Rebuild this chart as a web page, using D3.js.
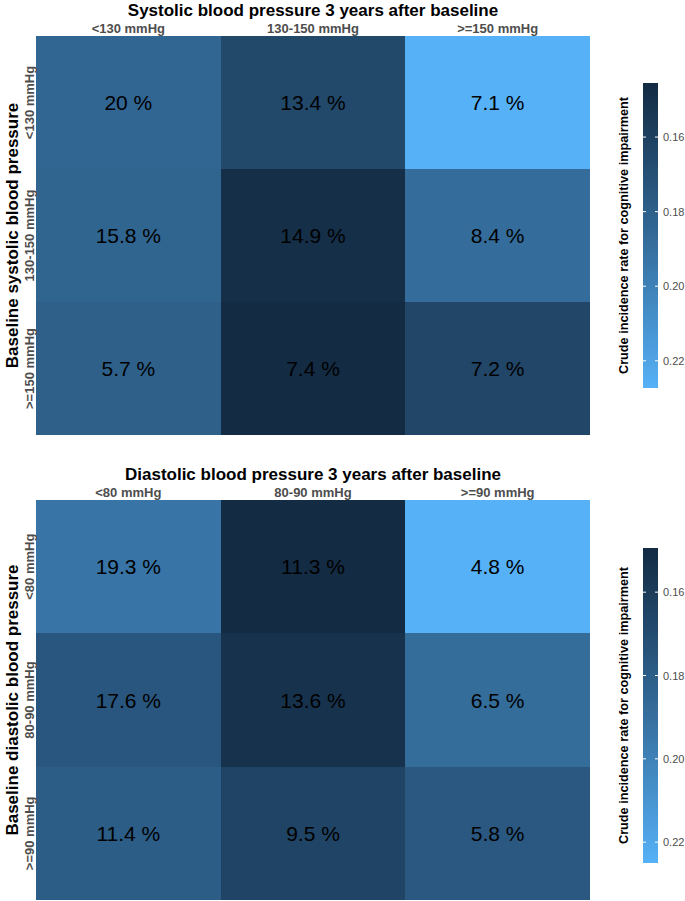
<!DOCTYPE html>
<html><head><meta charset="utf-8">
<script src="https://cdn.jsdelivr.net/npm/d3@7"></script>
<style>body{margin:0;background:#fff}svg{display:block}</style>
</head><body>
<script>
const sysCols = ["<130 mmHg", "130-150 mmHg", ">=150 mmHg"];
const sysRows = ["<130 mmHg", "130-150 mmHg", ">=150 mmHg"];
const sysLabels = [["20 %", "13.4 %", "7.1 %"], ["15.8 %", "14.9 %", "8.4 %"], ["5.7 %", "7.4 %", "7.2 %"]];
const sysFill = [[0.184, 0.165, 0.2273], [0.183, 0.148, 0.188], [0.180, 0.1455, 0.164]];

const diaCols = ["<80 mmHg", "80-90 mmHg", ">=90 mmHg"];
const diaRows = ["<80 mmHg", "80-90 mmHg", ">=90 mmHg"];
const diaLabels = [["19.3 %", "11.3 %", "4.8 %"], ["17.6 %", "13.6 %", "6.5 %"], ["11.4 %", "9.5 %", "5.8 %"]];
const diaFill = [[0.193, 0.1494, 0.225], [0.176, 0.154, 0.188], [0.180, 0.165, 0.177]];

const legendTicks = [0.16, 0.18, 0.20, 0.22];

const W = 685, H = 901;
const svg = d3.select("body").append("svg").attr("width", W).attr("height", H);
const defs = svg.append("defs");
const FONT = "'Liberation Sans', Arial, sans-serif";
const interp = d3.interpolateLab("#132B43", "#56B1F7");

function panel(cfg, idx) {
  const {title, ytitle, cols, rows, labels, fill, top, bottom, cbTop, cbBottom} = cfg;
  const g = svg.append("g");
  const flat = fill.flat();
  const ext = d3.extent(flat);
  const color = d3.scaleSequential(interp).domain(ext);
  const x = d3.scaleBand().domain(cols).range([36, 590]);
  const y = d3.scaleBand().domain(rows).range([top, bottom]);

  const cells = [];
  rows.forEach((r, i) => cols.forEach((c, j) => cells.push({r, c, v: fill[i][j], lab: labels[i][j]})));
  g.selectAll("rect.cell").data(cells).join("rect")
    .attr("x", d => Math.round(x(d.c))).attr("y", d => Math.round(y(d.r)))
    .attr("width", d => Math.round(x(d.c) + x.bandwidth()) - Math.round(x(d.c)))
    .attr("height", d => Math.round(y(d.r) + y.bandwidth()) - Math.round(y(d.r)))
    .attr("shape-rendering", "crispEdges")
    .attr("fill", d => color(d.v));
  g.selectAll("text.cell").data(cells).join("text")
    .attr("x", d => x(d.c) + x.bandwidth() / 2).attr("y", d => y(d.r) + y.bandwidth() / 2)
    .attr("text-anchor", "middle").attr("dominant-baseline", "central")
    .attr("font-family", FONT).attr("font-size", 21).attr("fill", "#000")
    .text(d => d.lab);

  g.selectAll("text.col").data(cols).join("text")
    .attr("x", d => x(d) + x.bandwidth() / 2).attr("y", top - 8)
    .attr("text-anchor", "middle").attr("dominant-baseline", "central")
    .attr("font-family", FONT).attr("font-weight", "bold").attr("font-size", 13).attr("fill", "#4d4d4d")
    .text(d => d);
  g.selectAll("text.row").data(rows).join("text")
    .attr("transform", d => `translate(29,${y(d) + y.bandwidth() / 2}) rotate(-90)`)
    .attr("text-anchor", "middle").attr("dominant-baseline", "central")
    .attr("font-family", FONT).attr("font-weight", "bold").attr("font-size", 13).attr("fill", "#4d4d4d")
    .text(d => d);
  g.append("text").attr("x", 313).attr("y", top - 26)
    .attr("text-anchor", "middle").attr("dominant-baseline", "central")
    .attr("font-family", FONT).attr("font-weight", "bold").attr("font-size", 17).attr("fill", "#000")
    .text(title);
  g.append("text").attr("transform", `translate(12,${(top + bottom) / 2}) rotate(-90)`)
    .attr("text-anchor", "middle").attr("dominant-baseline", "central")
    .attr("font-family", FONT).attr("font-weight", "bold").attr("font-size", 17).attr("fill", "#000")
    .text(ytitle);

  const gid = "grad" + idx;
  const grad = defs.append("linearGradient").attr("id", gid).attr("x1", 0).attr("y1", 0).attr("x2", 0).attr("y2", 1);
  d3.range(0, 1.0001, 0.05).forEach(t => grad.append("stop").attr("offset", t).attr("stop-color", interp(t)));
  const cy = d3.scaleLinear().domain(ext).range([cbTop, cbBottom]);
  g.append("rect").attr("x", 643).attr("y", cbTop).attr("width", 15).attr("height", cbBottom - cbTop)
    .attr("fill", `url(#${gid})`);
  legendTicks.forEach(t => {
    const yy = cy(t);
    g.append("line").attr("x1", 643).attr("x2", 646).attr("y1", yy).attr("y2", yy).attr("stroke", "#fff").attr("stroke-width", 1);
    g.append("line").attr("x1", 655).attr("x2", 658).attr("y1", yy).attr("y2", yy).attr("stroke", "#fff").attr("stroke-width", 1);
    g.append("text").attr("x", 663).attr("y", yy).attr("dominant-baseline", "central")
      .attr("font-family", FONT).attr("font-size", 11).attr("fill", "#4d4d4d")
      .text(d3.format(".2f")(t));
  });
  g.append("text").attr("transform", `translate(624,${(cbTop + cbBottom) / 2}) rotate(-90)`)
    .attr("text-anchor", "middle").attr("dominant-baseline", "central")
    .attr("font-family", FONT).attr("font-weight", "bold").attr("font-size", 12.7).attr("fill", "#000")
    .text("Crude incidence rate for cognitive impairment");
}

panel({title: "Systolic blood pressure 3 years after baseline", ytitle: "Baseline systolic blood pressure",
  cols: sysCols, rows: sysRows, labels: sysLabels, fill: sysFill, top: 36, bottom: 435, cbTop: 83, cbBottom: 388}, 0);
panel({title: "Diastolic blood pressure 3 years after baseline", ytitle: "Baseline diastolic blood pressure",
  cols: diaCols, rows: diaRows, labels: diaLabels, fill: diaFill, top: 500, bottom: 900, cbTop: 548, cbBottom: 863}, 1);
</script>
</body></html>
